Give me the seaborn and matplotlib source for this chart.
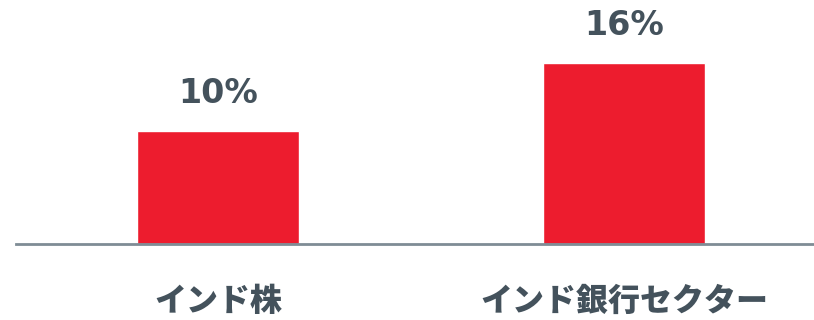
import pandas as pd
import seaborn as sns
import matplotlib.pyplot as plt

# data
categories = ["インド株", "インド銀行セクター"]
values = [10, 16]

bar_color = "#ED1C2E"
text_color = "#44525C"
line_color = "#7F8C95"

sns.set_theme(style="white")
plt.rcParams['font.family'] = ['Noto Sans CJK JP', 'DejaVu Sans']

df = pd.DataFrame({"cat": categories, "val": values})

fig = plt.figure(figsize=(8.14, 3.2), dpi=100)
ax = fig.add_axes([16 / 814, 76 / 320, 1 - 16 / 814, 244 / 320])

sns.barplot(data=df, x="cat", y="val", color=bar_color, saturation=1,
            width=0.4, ax=ax)

ax.bar_label(ax.containers[0], labels=[f"{v}%" for v in values],
             padding=15, fontsize=24, fontweight="bold", color=text_color,
             family="DejaVu Sans")

ax.set_xlim(-0.4975, 1.468)
ax.set_ylim(0, 21.6)

sns.despine(ax=ax, left=True, top=True, right=True)
ax.spines["bottom"].set_color(line_color)
ax.spines["bottom"].set_linewidth(2)

ax.set_yticks([])
ax.set_xlabel("")
ax.set_ylabel("")
ax.tick_params(axis="x", length=0, pad=29)
for lab in ax.get_xticklabels():
    lab.set_fontsize(23)
    lab.set_fontweight("heavy")
    lab.set_color(text_color)

fig.savefig("out.png", dpi=100)
